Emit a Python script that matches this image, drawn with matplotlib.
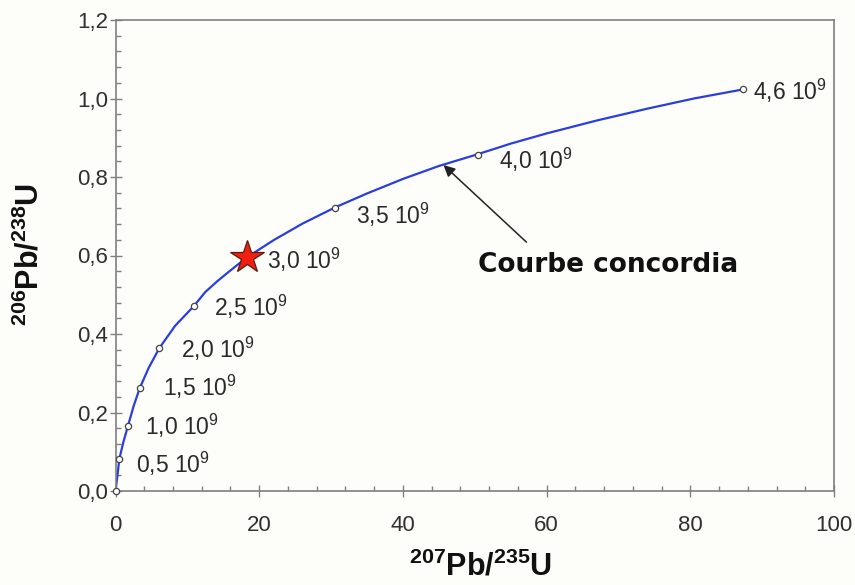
import matplotlib
matplotlib.use("Agg")
import matplotlib.pyplot as plt

plt.rcParams['font.family'] = ['Liberation Sans', 'DejaVu Sans']
plt.rcParams['mathtext.fontset'] = 'custom'
plt.rcParams['mathtext.rm'] = 'Liberation Sans'
plt.rcParams['mathtext.it'] = 'Liberation Sans:italic'
plt.rcParams['mathtext.bf'] = 'Liberation Sans:bold'

# Age points on the concordia
ages = ["0,5", "1,0", "1,5", "2,0", "2,5", "3,0", "3,5", "4,0", "4,6"]
pb207_u235 = [0.53, 1.74, 3.37, 6.1, 10.9, 18.27, 30.5, 50.4, 87.3]
pb206_u238 = [0.0815, 0.166, 0.262, 0.364, 0.471, 0.595, 0.722, 0.856, 1.023]

# Concordia curve vertices
curve_x = [0, 0.1, 0.25, 0.53, 1.1, 1.74, 2.5, 3.37, 4.6, 6.1, 8.3, 10.9,
           12.5, 14.2, 16.0, 18.27, 22.0, 26.0, 30.5, 35.0, 40.0, 45.0, 50.4,
           55.0, 60.0, 67.0, 74.0, 80.5, 87.3]
curve_y = [0, 0.015, 0.036, 0.0815, 0.125, 0.166, 0.215, 0.262, 0.313, 0.364,
           0.421, 0.471, 0.507, 0.535, 0.562, 0.595, 0.639, 0.681, 0.722,
           0.758, 0.795, 0.828, 0.858, 0.885, 0.911, 0.944, 0.974, 1.0, 1.023]

origin_x, origin_y = [0.0], [0.0]
star_index = 5  # 3,0 10^9

xticks = [0, 20, 40, 60, 80, 100]
xticklabels = ["0", "20", "40", "60", "80", "100"]
yticks = [0.0, 0.2, 0.4, 0.6, 0.8, 1.0, 1.2]
yticklabels = ["0,0", "0,2", "0,4", "0,6", "0,8", "1,0", "1,2"]

# label offsets in pixels (dx, dy) relative to markers
label_offsets_px = [(17, -14), (17, -9), (23, -8), (22, -10), (20, -10),
                    (20, -11), (21, -16), (21, -14), (10, -10)]

W, H = 855, 585
bg = '#fdfdf9'
fig = plt.figure(figsize=(W / 100, H / 100), dpi=100, facecolor=bg)
ax = fig.add_axes([115.5 / W, 1 - 491 / H, (834 - 115.5) / W, (491 - 20) / H])
ax.set_facecolor(bg)

ax.plot(curve_x, curve_y, color='#2a3ee0', lw=1.6, zorder=2)
mk = [i for i in range(len(ages)) if i != star_index]
ax.plot([pb207_u235[i] for i in mk], [pb206_u238[i] for i in mk], 'o', ms=4.5,
        mfc='white', mec='#444444', mew=0.9, ls='none', zorder=3)
ax.plot(origin_x, origin_y, 'o', ms=4.5, mfc='white', mec='#444444', mew=0.9,
        ls='none', zorder=3, clip_on=False)
ax.plot([pb207_u235[star_index]], [pb206_u238[star_index]], '*', ms=25,
        mfc='#f02010', mec='#5a1a10', mew=0.9, zorder=4)

for i, a in enumerate(ages):
    dx, dy = label_offsets_px[i]
    ax.annotate(a + r' 10$^{\mathregular{9}}$', (pb207_u235[i], pb206_u238[i]),
                xytext=(dx * 0.72, dy * 0.72), textcoords='offset points',
                ha='left', va='baseline', fontsize=16.5, color='#2a2a2a')

ax.annotate('', xy=(45.65, 0.8305), xytext=(57.2, 0.634),
            arrowprops=dict(arrowstyle='-|>', color='#222222', lw=1.1,
                            mutation_scale=17, shrinkA=0, shrinkB=0))
ax.text(50.5, 0.558, 'Courbe concordia', fontsize=19, fontweight='bold',
        family='DejaVu Sans', color='#111111', ha='left', va='baseline')

ax.set_xlim(0, 100)
ax.set_ylim(0, 1.2)
ax.set_xticks(xticks)
ax.set_xticklabels(xticklabels)
ax.set_yticks(yticks)
ax.set_yticklabels(yticklabels)
ax.set_xticks([v for v in range(0, 101, 4) if v % 20 != 0], minor=True)
ax.set_yticks([i * 0.04 for i in range(31) if i % 5 != 0], minor=True)

for s in ax.spines.values():
    s.set_color('#808080')
    s.set_linewidth(1.2)
ax.tick_params(which='major', direction='inout', length=8, width=1.0,
               color='#808080', labelsize=16, labelcolor='#303030')
ax.tick_params(axis='x', which='major', pad=13)
ax.tick_params(axis='y', which='major', pad=1.5)
ax.tick_params(which='minor', direction='in', length=3.8, width=1.0,
               color='#808080')

fig.text(481 / W, 1 - 576 / H, r'$\mathbf{^{207}Pb/^{235}U}$', fontsize=22,
         ha='center', va='baseline', color='#111111')
fig.text(30 / W, 1 - 254 / H, r'$\mathbf{^{206}Pb/^{238}U}$', fontsize=22,
         ha='center', va='center', rotation=90, color='#111111')

fig.savefig('out.png', dpi=100, facecolor=bg)
